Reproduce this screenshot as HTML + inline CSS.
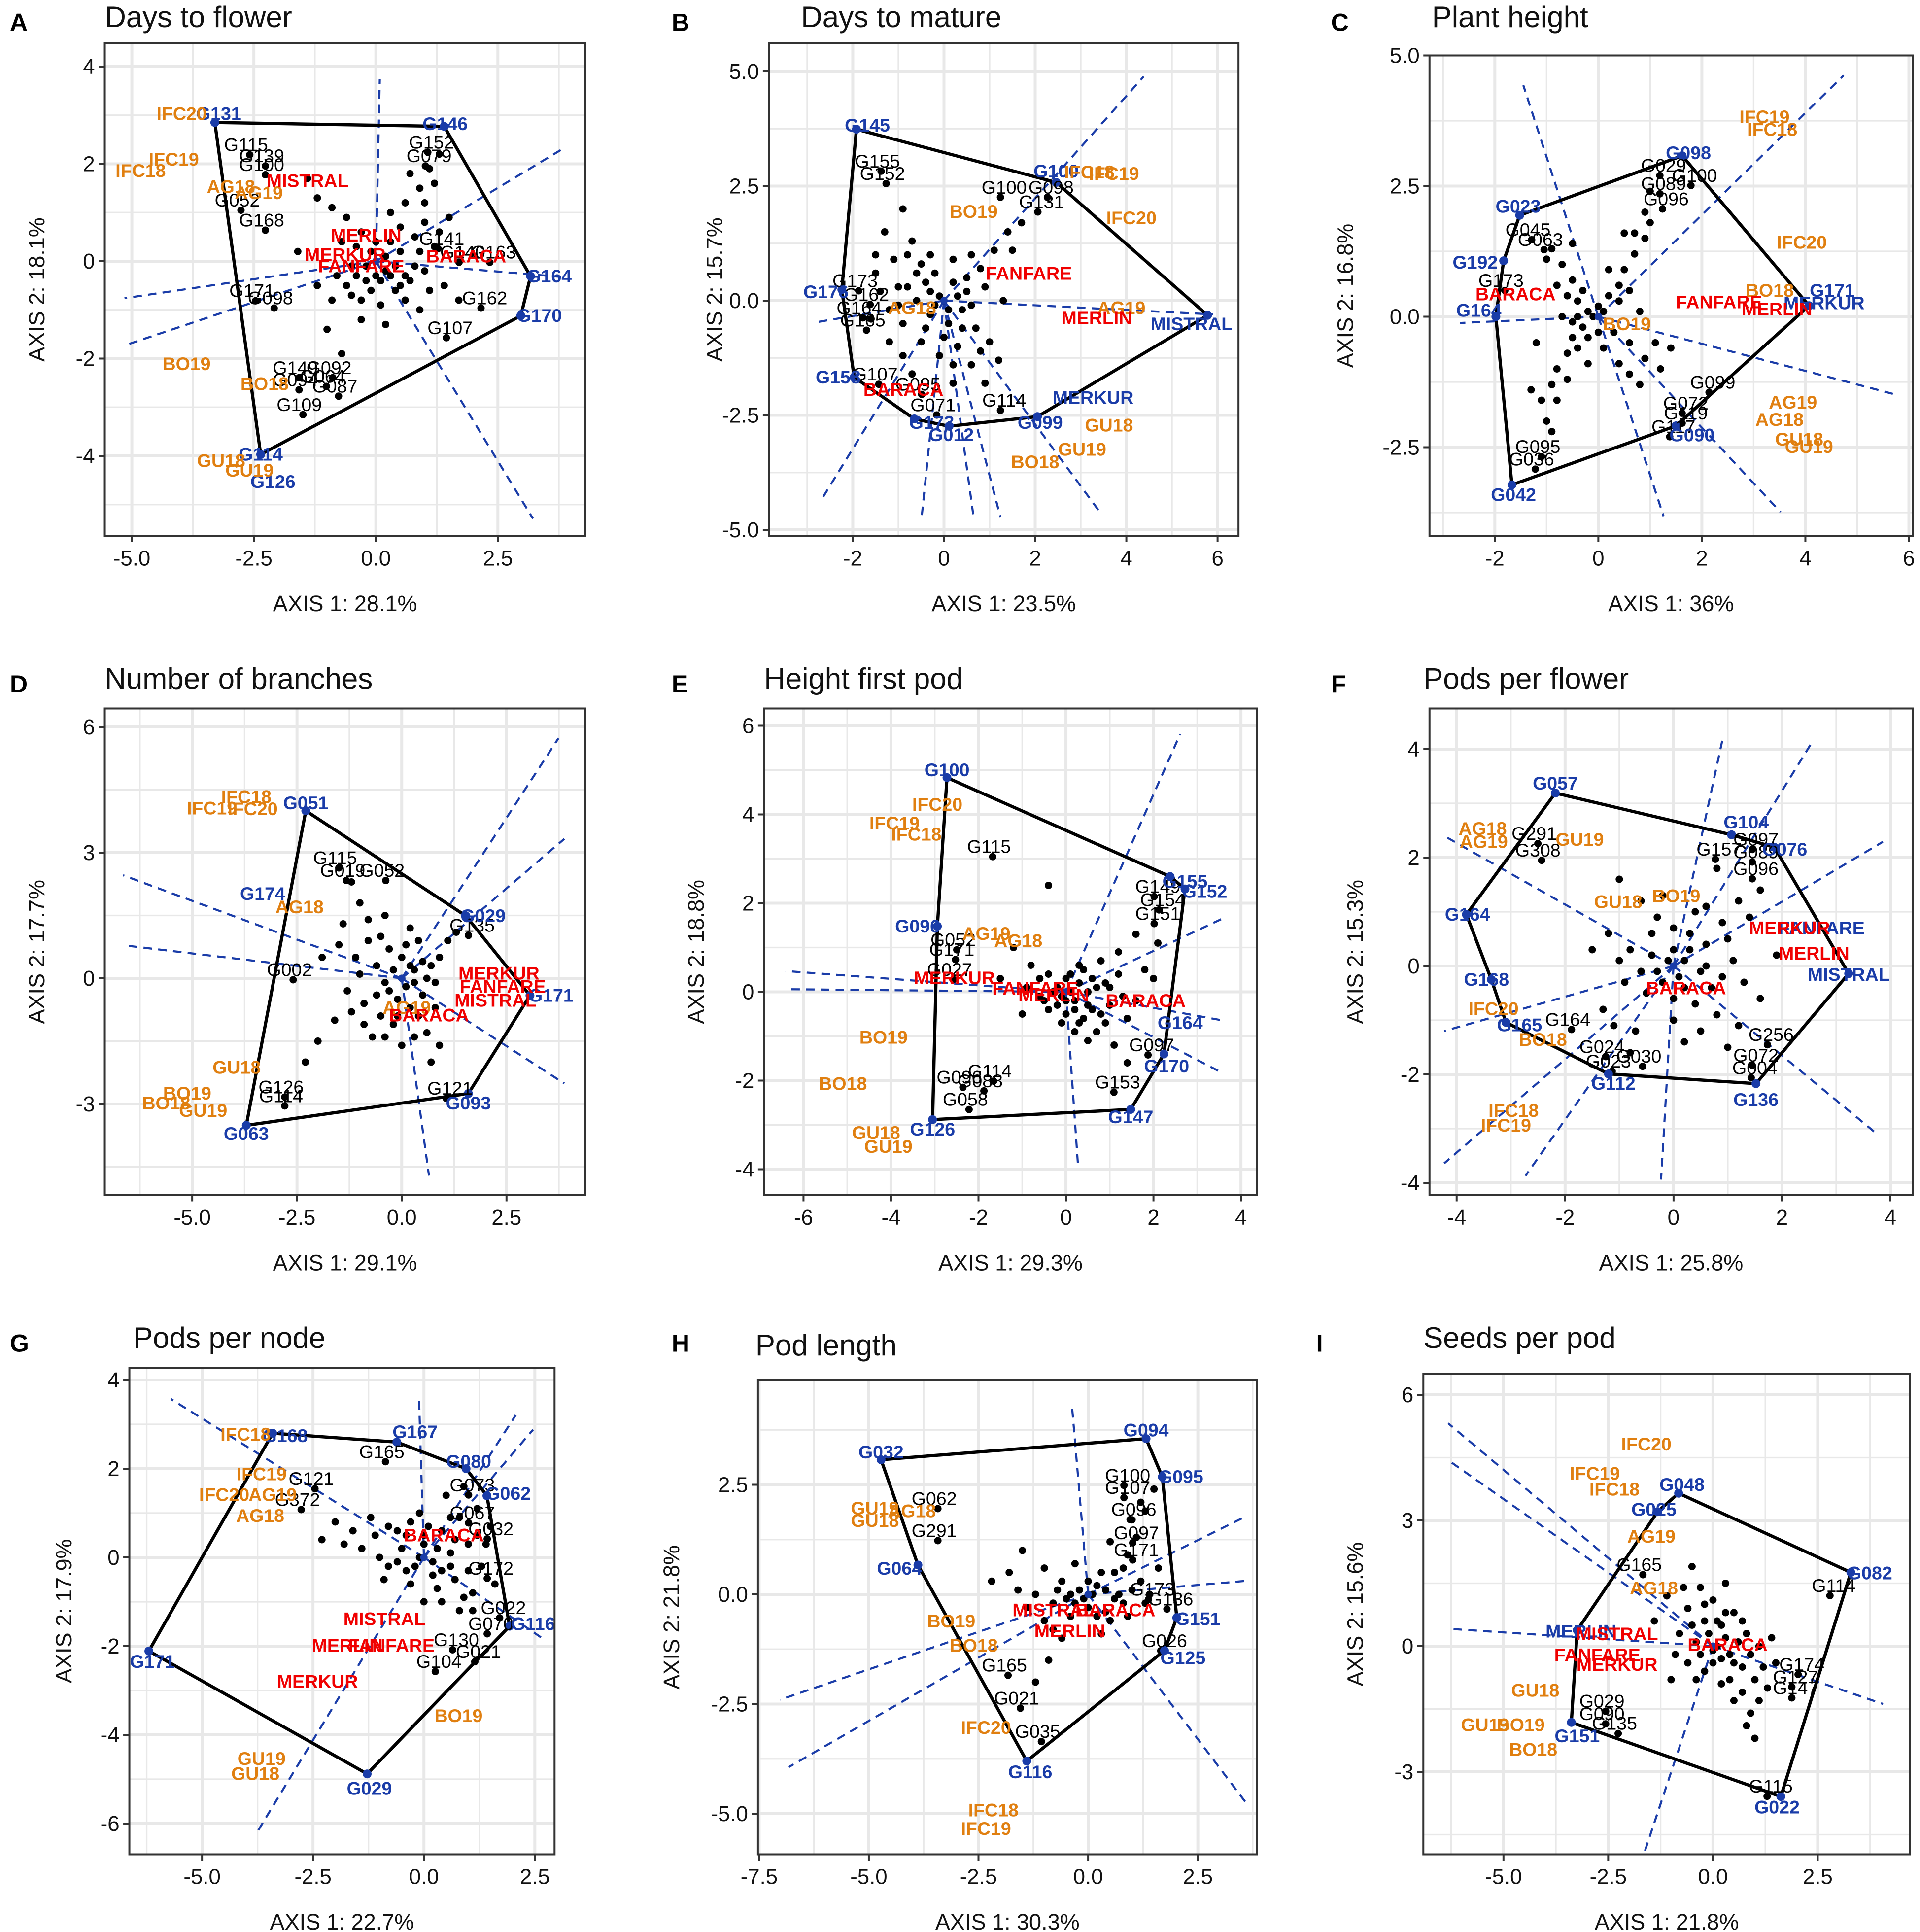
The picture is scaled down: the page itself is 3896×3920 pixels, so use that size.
<!DOCTYPE html>
<html><head><meta charset="utf-8">
<style>
html,body{margin:0;padding:0;background:#fff;}
svg{display:block;font-family:"Liberation Sans",Arial,sans-serif;}
</style></head>
<body>
<svg id="fig" xmlns="http://www.w3.org/2000/svg" width="3896" height="3920" viewBox="0 0 1558 1568" preserveAspectRatio="none"></svg>
<script>
// ===== Data arrays (biplot coordinates) =====
// Panel A
const A_hull=[[-3.30,2.85],[1.40,2.77],[3.17,-0.31],[2.97,-1.12],[-2.36,-3.97]];
const A_rays=[[0.08,3.74],[3.88,2.34],[3.88,-0.33],[3.22,-5.29],[-5.15,-0.76],[-5.15,-1.73]];
const A_env=[["IFC20",-3.98,3.03],["IFC19",-4.14,2.09],["IFC18",-4.82,1.86],["AG18",-2.97,1.53],["AG19",-2.40,1.40],["BO19",-3.88,-2.11],["BO18",-2.28,-2.52],["GU18",-3.17,-4.10],["GU19",-2.59,-4.30]];
const A_cult=[["MISTRAL",-1.40,1.65],["MERLIN",-0.20,0.53],["MERKUR",-0.63,0.13],["BARACA",1.85,0.10],["FANFARE",-0.30,-0.10]];
const A_geno=[["G131",-3.22,3.03],["G146",1.42,2.82],["G164",3.55,-0.31],["G170",3.35,-1.12],["G114",-2.36,-3.97],["G126",-2.11,-4.53]];
const A_other=[["G115",-2.66,2.39],["G139",-2.34,2.16],["G100",-2.34,1.98],["G052",-2.84,1.25],["G168",-2.34,0.84],["G152",1.14,2.44],["G079",1.09,2.16],["G141",1.35,0.46],["G140",1.78,0.18],["G163",2.41,0.18],["G162",2.23,-0.76],["G107",1.52,-1.37],["G171",-2.54,-0.61],["G098",-2.16,-0.76],["G149",-1.65,-2.19],["G092",-0.96,-2.19],["G094",-1.65,-2.44],["G064",-1.09,-2.37],["G087",-0.84,-2.57],["G109",-1.57,-2.95]];
const A_dots=[[-1.4,1.7],[-1.2,1.3],[-0.9,1.1],[-0.6,0.9],[-0.3,0.6],[0,0.4],[0.3,1.0],[0.6,1.2],[0.9,1.5],[1.1,1.9],[1.3,2.2],[1.0,0.8],[0.5,0.2],[0.2,-0.2],[-0.2,-0.4],[-0.5,-0.1],[-0.8,-0.3],[0.4,-0.6],[0.7,-0.4],[1.0,-0.2],[1.4,-0.5],[1.7,-0.8],[0.9,-1.0],[-1.0,-1.4],[-0.7,-1.9],[0.1,-0.9],[-0.4,0.3],[0.8,0.5],[1.5,0.9],[-1.6,0.2],[-0.1,-0.6],[0.3,-0.3],[-0.3,-0.8],[0.6,-0.8],[1.2,0.3],
 [-0.2,-0.1],[0.1,-0.4],[0.4,-0.1],[-0.4,-0.3],[0.2,0.1],[-0.6,-0.5],[0.6,-0.3],[0.0,-0.3],[-0.1,0.2],[0.5,-0.5],[0.3,0.4],[0.9,0.2],[1.1,-0.6],[1.3,0.6],[0.7,1.8],[1.0,1.2],[-0.9,-0.8],[-1.2,-0.5],[-0.3,-1.2],[0.2,-1.3],[1.2,1.6],[0.5,0.7],[-0.7,0.4],[0.0,0.0],[-0.5,-0.7],[0.8,-0.1]];
// Panel B
const B_hull=[[-1.92,3.74],[2.46,2.58],[5.78,-0.32],[2.05,-2.53],[0.11,-2.74],[-0.65,-2.58],[-1.97,-1.67],[-2.24,0.24]];
const B_rays=[[4.38,4.89],[-2.68,-4.33],[-0.49,-4.73],[0.65,-4.73],[1.24,-4.73],[3.41,-4.6],[5.9,-0.3],[-2.86,-0.48]];
const B_env=[["IFC19",3.73,2.77],["IFC18",3.19,2.80],["BO19",0.65,1.94],["IFC20",4.11,1.80],["AG19",3.89,-0.16],["AG18",-0.70,-0.16],["GU18",3.62,-2.72],["GU19",3.03,-3.25],["BO18",2.0,-3.52]];
const B_cult=[["FANFARE",1.86,0.59],["MERLIN",3.35,-0.38],["BARACA",-0.89,-1.94]];
const B_geno=[["G145",-1.68,3.82],["G100",2.46,2.82],["MISTRAL",5.43,-0.51],["MERKUR",3.27,-2.12],["G099",2.11,-2.66],["G012",0.16,-2.93],["G173",-0.27,-2.66],["G158",-2.32,-1.67],["G176",-2.59,0.19]];
const B_other=[["G155",-1.46,3.04],["G152",-1.35,2.77],["G100",1.32,2.47],["G098",2.35,2.47],["G131",2.14,2.15],["G173",-1.95,0.43],["G162",-1.70,0.13],["G164",-1.86,-0.16],["G165",-1.78,-0.43],["G107",-1.51,-1.61],["G095",-0.57,-1.83],["G071",-0.24,-2.28],["G114",1.32,-2.18]];
const B_dots=[[-0.8,1.0],[-0.5,0.8],[-0.2,0.6],[0.2,0.4],[0.5,0.2],[0.8,0.7],[1.1,1.1],[1.4,1.5],[-1.0,0.3],[-0.6,0.0],[-0.3,-0.3],[0.1,-0.5],[0.4,-0.2],[0.7,-0.6],[1.0,-0.9],[-0.9,-0.5],[-0.5,-0.9],[-0.1,-1.2],[0.3,-1.0],[0.6,-1.4],[-1.2,-0.2],[-1.5,0.6],[-1.3,1.5],[-0.9,2.0],[0.9,-1.8],[0.2,0.9],[-0.3,0.2],[0.0,0.0],[0.6,-0.1],[1.3,0.0],[-1.1,0.9],[-0.7,-1.6],[0.2,-1.8],
 [-0.4,0.4],[-0.1,0.1],[0.3,0.1],[-0.6,0.6],[-0.2,-0.1],[0.1,-0.2],[0.5,0.5],[-0.8,0.3],[-1.0,-0.1],[-0.4,-0.6],[0.0,-0.8],[0.4,-0.6],[0.8,-1.1],[1.2,-1.3],[-1.4,0.2],[-1.6,-0.4],[-1.2,-0.9],[-0.7,1.3],[-0.3,1.0],[0.6,1.0],[1.5,1.1],[1.7,1.7],[0.9,0.3],[-0.9,-1.2],[0.2,-1.4],[-1.5,1.0]];
// Panel C
const C_hull=[[1.62,3.08],[4.07,0.21],[1.5,-2.09],[-1.67,-3.22],[-1.98,0],[-1.83,1.07],[-1.52,1.94]];
const C_rays=[[-1.45,4.43],[4.74,4.62],[-2.67,-0.12],[5.74,-1.49],[3.52,-3.74],[1.26,-3.82]];
const C_env=[["IFC19",3.21,3.82],["IFC18",3.36,3.58],["IFC20",3.93,1.42],["BO18",3.31,0.5],["BO19",0.55,-0.14],["AG19",3.76,-1.64],["AG18",3.5,-1.97],["GU18",3.88,-2.35],["GU19",4.07,-2.49]];
const C_cult=[["FANFARE",2.33,0.28],["MERLIN",3.45,0.14],["BARACA",-1.6,0.43]];
const C_geno=[["G098",1.74,3.13],["G023",-1.55,2.11],["G192",-2.38,1.04],["G164",-2.31,0.12],["G171",4.52,0.5],["MERKUR",4.36,0.26],["G090",1.81,-2.27],["G042",-1.64,-3.41]];
const C_other=[["G029",1.26,2.89],["G100",1.86,2.70],["G089",1.26,2.54],["G096",1.31,2.25],["G045",-1.36,1.66],["G063",-1.12,1.47],["G173",-1.88,0.69],["G099",2.21,-1.26],["G072",1.69,-1.66],["G119",1.69,-1.85],["G117",1.45,-2.11],["G095",-1.17,-2.49],["G036",-1.29,-2.73]];
const C_dots=[[-1.0,-2.0],[-1.1,-1.6],[-0.9,-1.3],[-0.8,-1.0],[-0.6,-0.7],[-0.5,-0.4],[-0.3,-0.2],[-0.2,0.1],[0,0.2],[0.2,0.4],[0.4,0.6],[0.5,0.9],[0.7,1.2],[0.9,1.5],[1.0,1.8],[-0.4,0.3],[0.3,-0.3],[0.6,-0.5],[0.9,-0.8],[1.2,-1.0],[-0.7,0.0],[0.1,-0.6],[-0.2,-0.9],[0.8,0.1],[1.4,-0.6],[-1.2,-0.5],[0.2,0.9],[-0.5,0.7],[-0.9,1.3],[-0.7,1.0],[0.9,2.0],[-1.3,-1.4],
 [-0.4,0.0],[-0.1,0.0],[-0.3,0.5],[0.1,0.1],[-0.5,-0.1],[-0.6,0.4],[-0.8,0.6],[-0.2,-0.4],[0.0,-0.3],[-0.4,-0.6],[-0.6,-1.2],[-0.8,-1.6],[-0.9,-2.2],[0.4,-0.9],[0.6,-1.1],[0.8,-1.3],[0.5,1.6],[0.7,1.6],[1.0,2.4],[-1.0,1.1],[-0.5,1.4],[0.4,0.3],[0.6,0.5],[1.1,-0.5]];
// Panel D
const D_hull=[[-2.29,4.0],[1.53,1.49],[3.06,-0.41],[1.59,-2.75],[-3.71,-3.51]];
const D_rays=[[3.74,5.73],[3.88,3.33],[3.88,-2.51],[0.65,-4.71],[-6.65,2.46],[-6.65,0.79]];
const D_env=[["IFC18",-3.71,4.33],["IFC19",-4.53,4.06],["IFC20",-3.56,4.04],["AG18",-2.44,1.70],["AG19",0.12,-0.70],["GU18",-3.94,-2.13],["BO19",-5.12,-2.75],["BO18",-5.62,-2.98],["GU19",-4.74,-3.16]];
const D_cult=[["MERKUR",2.32,0.12],["FANFARE",2.41,-0.2],["MISTRAL",2.24,-0.53],["BARACA",0.65,-0.88]];
const D_geno=[["G051",-2.29,4.18],["G174",-3.32,2.02],["G029",1.94,1.49],["G171",3.56,-0.41],["G093",1.59,-2.98],["G063",-3.71,-3.71]];
const D_other=[["G115",-1.59,2.87],["G019",-1.41,2.57],["G052",-0.47,2.57],["G135",1.68,1.26],["G002",-2.68,0.20],["G121",1.15,-2.63],["G126",-2.88,-2.60],["G114",-2.88,-2.81]];
const D_dots=[[-1.2,2.3],[-1.0,1.8],[-0.8,1.4],[-0.5,1.0],[-0.3,0.7],[0,0.5],[0.3,0.2],[-0.6,0.3],[-1.0,0.1],[-1.3,-0.3],[-0.9,-0.6],[-0.5,-0.9],[-0.2,-1.1],[0.2,-0.7],[0.5,-0.4],[0.8,-0.1],[0.6,-1.3],[0.9,-1.6],[-1.6,-1.0],[-2.0,-1.5],[-2.3,-2.0],[-1.5,0.8],[0.1,-0.2],[-0.3,-0.3],[0.4,0.9],[-0.7,-1.4],[0.7,-2.0],[-1.9,0.5],[0.2,0.3],[-0.1,-0.5],[0.5,0.4],
 [0.0,0.0],[-0.2,0.2],[0.3,-0.1],[-0.4,-0.1],[0.1,0.8],[-0.8,0.9],[-0.6,-0.4],[0.4,-0.9],[-0.1,-0.9],[0.6,0.0],[0.9,0.5],[1.1,0.9],[1.3,1.1],[-0.9,-1.1],[-1.2,-0.8],[0.3,-1.4],[-0.4,-1.4],[0.8,-0.7],[-1.1,0.5],[-0.4,1.5],[0.2,1.2],[-1.4,1.3],[0.0,-1.6],[0.7,0.3]];
// Panel E
const E_hull=[[-2.72,4.83],[2.38,2.6],[2.72,2.32],[2.24,-1.40],[1.48,-2.65],[-3.05,-2.88],[-2.94,1.48]];
const E_rays=[[2.61,5.81],[3.64,1.68],[3.56,-0.64],[3.56,-1.82],[0.28,-3.99],[-6.41,0.47],[-6.41,0.06]];
const E_env=[["IFC20",-2.94,4.22],["IFC19",-3.92,3.80],["IFC18",-3.42,3.55],["AG19",-1.82,1.31],["AG18",-1.09,1.15],["BO19",-4.17,-1.03],["BO18",-5.10,-2.07],["GU18",-4.34,-3.18],["GU19",-4.06,-3.49]];
const E_cult=[["MERKUR",-2.55,0.31],["FANFARE",-0.70,0.08],["MERLIN",-0.28,-0.08],["BARACA",1.82,-0.20]];
const E_geno=[["G100",-2.72,5.0],["G096",-3.39,1.48],["G155",2.72,2.49],["G152",3.17,2.26],["G164",2.61,-0.70],["G170",2.30,-1.68],["G147",1.48,-2.82],["G126",-3.05,-3.10]];
const E_other=[["G115",-1.76,3.27],["G052",-2.58,1.17],["G171",-2.61,0.95],["G027",-2.66,0.50],["G149",2.10,2.37],["G154",2.21,2.07],["G151",2.10,1.76],["G097",1.96,-1.20],["G153",1.18,-2.04],["G114",-1.74,-1.79],["G096",-2.44,-1.93],["G088",-1.96,-2.01],["G058",-2.30,-2.43]];
const E_dots=[[-0.4,2.4],[-1.2,1.0],[-0.8,0.6],[-0.4,0.4],[0,0.3],[0.4,0.5],[0.8,0.7],[1.2,0.9],[1.6,1.3],[-0.6,-0.1],[-0.2,-0.3],[0.2,-0.2],[0.6,-0.4],[1.0,-0.3],[1.4,-0.6],[0.3,-0.7],[0.7,-0.9],[1.1,-1.2],[1.4,-1.6],[-1.0,-0.5],[0,-0.5],[0.5,0.0],[1.8,0.5],[2.1,1.1],[-1.5,0.3],[0.9,0.2],[0.1,0.0],[-0.3,0.0],[0.3,0.2],
 [-0.1,-0.1],[0.2,-0.4],[0.5,-0.3],[-0.4,-0.4],[0.0,-0.2],[0.4,-0.6],[0.8,-0.5],[-0.2,0.1],[0.6,0.3],[1.0,0.1],[1.3,-0.1],[0.2,-0.9],[0.5,-1.1],[-0.6,0.3],[-0.9,0.1],[0.9,-0.7],[1.2,0.4],[-0.1,-0.7],[0.3,0.6],[0.7,0.1],[0.1,0.4],[-0.5,-0.2],[1.6,-0.2],[2.0,0.3]];
// Panel F
const F_hull=[[-2.18,3.19],[1.07,2.42],[1.86,2.19],[3.23,-0.14],[1.52,-2.17],[-1.20,-1.99],[-3.09,-1.04],[-3.36,-0.25],[-3.82,0.95]];
const F_rays=[[0.91,4.21],[2.55,4.12],[3.86,2.29],[3.73,-3.08],[-0.23,-3.94],[-2.73,-3.87],[-4.23,-3.64],[-4.23,-1.20],[-4.23,2.40]];
const F_env=[["AG18",-3.52,2.53],["AG19",-3.50,2.29],["GU19",-1.73,2.33],["GU18",-1.02,1.18],["BO19",0.05,1.29],["IFC20",-3.32,-0.79],["BO18",-2.41,-1.36],["IFC18",-2.95,-2.67],["IFC19",-3.09,-2.94]];
const F_cult=[["MERKUR",2.14,0.70],["MERLIN",2.59,0.23],["BARACA",0.23,-0.41]];
const F_geno=[["G057",-2.18,3.37],["G104",1.34,2.65],["G076",2.05,2.15],["FANFARE",2.73,0.70],["MISTRAL",3.23,-0.16],["G136",1.52,-2.47],["G112",-1.11,-2.17],["G165",-2.84,-1.09],["G168",-3.45,-0.25],["G164",-3.80,0.95]];
const F_other=[["G291",-2.57,2.44],["G308",-2.50,2.13],["G157",0.84,2.15],["G097",1.52,2.33],["G089",1.52,2.10],["G096",1.52,1.79],["G164",-1.95,-0.99],["G256",1.80,-1.27],["G072",1.52,-1.65],["G004",1.50,-1.88],["G024",-1.32,-1.49],["G030",-0.64,-1.67],["G023",-1.20,-1.76]];
const F_dots=[[-1.0,1.6],[-0.6,1.2],[-0.3,0.9],[0,0.7],[0.3,0.6],[0.6,0.4],[1.0,0.5],[1.4,0.9],[1.6,1.4],[0.8,1.8],[-1.2,0.6],[-0.8,0.3],[-0.4,0.2],[0.2,0.1],[0.5,-0.1],[0.9,-0.2],[1.3,-0.3],[-0.9,-0.3],[-0.5,-0.5],[0.0,-0.6],[0.4,-0.7],[0.8,-0.9],[1.2,-1.1],[-1.3,-0.8],[-0.7,-1.2],[0.2,-1.4],[1.0,-1.5],[-0.2,1.3],[0.6,1.1],[1.9,0.2],
 [-0.1,0.1],[0.1,-0.2],[0.3,0.3],[-0.3,-0.1],[0.0,0.3],[0.6,0.0],[-0.6,-0.1],[0.2,-0.4],[0.7,-0.4],[-0.2,-0.3],[1.1,0.1],[-1.0,0.1],[-0.4,0.6],[0.4,1.0],[1.2,1.2],[-1.1,-1.1],[0.5,-1.2],[1.6,-0.6],[-0.8,-1.6],[0.9,0.8],[-1.5,0.3],[0.0,-1.0]];
// Panel G
const G_hull=[[-3.41,2.80],[-0.61,2.60],[0.95,2.0],[1.42,1.39],[1.93,-1.55],[-1.28,-4.88],[-6.20,-2.11]];
const G_rays=[[-5.70,3.57],[-0.11,3.57],[2.07,3.21],[2.46,2.88],[2.68,-1.83],[-3.80,-6.26]];
const G_env=[["IFC18",-4.02,2.77],["IFC19",-3.66,1.88],["IFC20",-4.50,1.41],["AG19",-3.41,1.41],["AG18",-3.69,0.94],["BO19",0.78,-3.57],["GU19",-3.66,-4.54],["GU18",-3.80,-4.88]];
const G_cult=[["BARACA",0.45,0.50],["MISTRAL",-0.89,-1.39],["MERLIN",-1.73,-1.99],["FANFARE",-0.73,-1.99],["MERKUR",-2.40,-2.80]];
const G_geno=[["G168",-3.13,2.74],["G167",-0.20,2.83],["G080",1.01,2.16],["G062",1.90,1.44],["G116",2.46,-1.50],["G029",-1.23,-5.21],["G171",-6.12,-2.35]];
const G_other=[["G165",-0.95,2.38],["G121",-2.54,1.77],["G372",-2.85,1.30],["G073",1.09,1.63],["G067",1.09,1.0],["G032",1.51,0.64],["G172",1.51,-0.25],["G022",1.79,-1.14],["G070",1.51,-1.50],["G130",0.73,-1.86],["G021",1.23,-2.13],["G104",0.34,-2.35]];
const G_dots=[[-2.0,0.8],[-1.6,0.6],[-1.2,0.9],[-0.8,0.7],[-0.4,0.5],[0,0.3],[0.4,0.6],[0.8,0.9],[1.2,1.1],[1.5,0.7],[-1.4,0.2],[-1.0,0.0],[-0.6,-0.1],[-0.2,-0.2],[0.2,-0.1],[0.6,0.1],[1.0,0.3],[1.3,-0.2],[-0.3,-0.6],[0.3,-0.7],[0.7,-0.5],[1.1,-0.8],[-0.9,-0.5],[0.5,1.4],[0.9,1.6],[-0.1,1.0],[1.6,-0.6],[-2.3,0.4],[0.0,-1.0],[0.8,-1.2],
 [-0.5,0.2],[-0.1,0.0],[0.3,0.2],[0.6,-0.2],[-0.3,0.8],[0.1,0.7],[0.4,-0.3],[-0.6,0.6],[1.0,-0.3],[1.2,0.5],[0.7,0.4],[-1.1,0.5],[-0.8,-0.2],[0.2,-0.4],[0.9,-0.9],[1.4,0.3],[-1.8,0.3],[0.6,0.9],[-0.4,-0.3],[0.0,0.5],[1.1,-1.2],[0.4,-1.0]];
// Panel H
const H_hull=[[-4.72,3.07],[1.32,3.55],[1.69,2.68],[2.02,-0.53],[1.74,-1.28],[-1.40,-3.80],[-3.88,0.67]];
const H_rays=[[-0.37,4.30],[3.62,1.79],[3.62,0.31],[3.62,-4.78],[-7.02,-2.40],[-6.83,-3.94]];
const H_env=[["GU19",-4.86,1.96],["GU18",-4.86,1.68],["AG18",-4.02,1.90],["BO19",-3.12,-0.61],["BO18",-2.61,-1.17],["IFC20",-2.33,-3.04],["IFC18",-2.16,-4.92],["IFC19",-2.33,-5.34]];
const H_cult=[["MISTRAL",-0.79,-0.36],["BARACA",0.62,-0.36],["MERLIN",-0.42,-0.84]];
const H_geno=[["G032",-4.72,3.24],["G094",1.32,3.74],["G095",2.11,2.68],["G151",2.5,-0.56],["G125",2.16,-1.45],["G116",-1.32,-4.05],["G064",-4.30,0.59]];
const H_other=[["G062",-3.51,2.18],["G291",-3.51,1.45],["G100",0.90,2.71],["G107",0.90,2.43],["G096",1.04,1.93],["G097",1.10,1.40],["G171",1.10,1.01],["G173",1.46,0.11],["G136",1.88,-0.11],["G026",1.74,-1.06],["G165",-1.91,-1.62],["G021",-1.63,-2.37],["G035",-1.15,-3.13]];
const H_dots=[[-1.5,1.0],[-1.0,0.6],[-0.6,0.3],[-0.2,0.1],[0.2,0.2],[0.6,0.5],[0.9,0.9],[1.1,1.3],[1.3,1.9],[1.5,2.4],[-1.8,0.5],[-1.2,0.0],[-0.8,-0.2],[-0.4,-0.5],[0,-0.3],[0.4,-0.4],[0.8,-0.2],[1.2,0.3],[-1.0,-0.6],[-0.6,-1.0],[-0.9,-1.5],[-1.2,-2.0],[0.3,-0.9],[0.7,0.0],[1.6,0.6],[-2.2,0.3],[-0.3,0.7],[0.5,1.2],
 [-0.1,-0.1],[0.1,0.0],[0.4,0.1],[-0.4,0.0],[-0.7,0.1],[0.2,-0.5],[0.6,-0.1],[1.0,0.1],[1.3,-0.2],[0.8,0.6],[1.0,1.7],[1.2,2.1],[-1.4,-0.3],[-0.5,-0.1],[0.0,0.3],[0.5,-0.6],[-1.6,0.1],[-0.8,-0.8],[0.9,-0.5],[1.4,0.0],[-0.3,-0.2],[0.3,0.5]];
// Panel I
const I_hull=[[-0.82,3.65],[3.29,1.76],[1.62,-3.59],[-3.38,-1.82],[-3.24,0.38],[-1.32,3.21]];
const I_rays=[[-6.32,5.32],[-6.32,4.44],[-6.24,0.41],[4.06,-1.38],[-1.68,-5.06]];
const I_env=[["IFC20",-1.59,4.82],["IFC19",-2.82,4.12],["IFC18",-2.35,3.74],["AG19",-1.47,2.62],["AG18",-1.41,1.38],["GU18",-4.24,-1.06],["GU19",-5.44,-1.88],["BO19",-4.59,-1.88],["BO18",-4.29,-2.47]];
const I_cult=[["MISTRAL",-2.29,0.29],["FANFARE",-2.76,-0.21],["MERKUR",-2.29,-0.44],["BARACA",0.35,0.03]];
const I_geno=[["G048",-0.74,3.85],["G025",-1.41,3.26],["G082",3.74,1.74],["G022",1.53,-3.85],["G151",-3.24,-2.15],["MERLIN",-3.15,0.35]];
const I_other=[["G165",-1.76,1.94],["G114",2.88,1.44],["G174",2.12,-0.44],["G127",1.97,-0.74],["G147",1.97,-1.0],["G029",-2.65,-1.32],["G090",-2.65,-1.62],["G135",-2.35,-1.85],["G115",1.38,-3.35]];
const I_dots=[[-0.5,1.9],[-0.3,1.4],[0,1.1],[-0.6,0.9],[-0.2,0.6],[0.2,0.5],[0.5,0.8],[0.8,0.3],[1.1,0.0],[-0.8,0.3],[-0.4,0.1],[0,-0.1],[0.4,-0.2],[0.7,-0.5],[1.0,-0.8],[1.3,-1.0],[-0.6,-0.4],[-0.2,-0.6],[0.2,-0.9],[0.5,-1.3],[0.9,-1.6],[1.0,-2.2],[-1.0,-0.8],[-1.4,0.6],[1.5,-0.4],[0.3,1.5],[-1.1,1.2],[0.6,0.1],
 [-0.1,0.3],[0.1,0.0],[0.3,0.2],[-0.3,-0.2],[0.5,-0.4],[0.2,-0.3],[-0.5,0.5],[0.7,0.6],[0.9,-0.2],[1.2,-0.5],[0.4,-0.8],[0.0,-0.4],[-0.4,-0.8],[0.7,-1.1],[1.1,-1.3],[0.3,0.8],[-0.2,1.0],[-0.7,1.4],[1.4,0.2],[0.8,-1.9],[-0.9,-0.2],[0.1,0.6]];

// Tick values
const A_xticks=[-5,-2.5,0,2.5], A_yticks=[-4,-2,0,2,4];
const B_xticks=[-2,0,2,4,6], B_yticks=[-5,-2.5,0,2.5,5];
const C_xticks=[-2,0,2,4,6], C_yticks=[-2.5,0,2.5,5];
const D_xticks=[-5,-2.5,0,2.5], D_yticks=[-3,0,3,6];
const E_xticks=[-6,-4,-2,0,2,4], E_yticks=[-4,-2,0,2,4,6];
const F_xticks=[-4,-2,0,2,4], F_yticks=[-4,-2,0,2,4];
const G_xticks=[-5,-2.5,0,2.5], G_yticks=[-6,-4,-2,0,2,4];
const H_xticks=[-7.5,-5,-2.5,0,2.5], H_yticks=[-5,-2.5,0,2.5];
const I_xticks=[-5,-2.5,0,2.5], I_yticks=[-3,0,3,6];

// ===== Layout (not data) =====
const panels=[
 {id:"a",letter:"A",title:"Days to flower",xl:"AXIS 1: 28.1%",yl:"AXIS 2: 18.1%",box:[85,35,475,435],xm:[0,305,2.5,404],ym:[0,212,2,133],xt:A_xticks,yt:A_yticks,xd:1,yd:0,lp:[8,18],tp:[85,20],ylx:30,xly:490,hull:A_hull,rays:A_rays,env:A_env,cult:A_cult,geno:A_geno,other:A_other,dots:A_dots},
 {id:"b",letter:"B",title:"Days to mature",xl:"AXIS 1: 23.5%",yl:"AXIS 2: 15.7%",box:[624,35,1005,435],xm:[0,766,2,840],ym:[0,244,2.5,151],xt:B_xticks,yt:B_yticks,xd:0,yd:1,lp:[545,18],tp:[650,20],ylx:580,xly:490,hull:B_hull,rays:B_rays,env:B_env,cult:B_cult,geno:B_geno,other:B_other,dots:B_dots},
 {id:"c",letter:"C",title:"Plant height",xl:"AXIS 1: 36%",yl:"AXIS 2: 16.8%",box:[1160,45,1552,435],xm:[0,1297,2,1381],ym:[0,257,2.5,151],xt:C_xticks,yt:C_yticks,xd:0,yd:1,lp:[1080,18],tp:[1162,20],ylx:1092,xly:490,hull:C_hull,rays:C_rays,env:C_env,cult:C_cult,geno:C_geno,other:C_other,dots:C_dots},
 {id:"d",letter:"D",title:"Number of branches",xl:"AXIS 1: 29.1%",yl:"AXIS 2: 17.7%",box:[85,575,475,970],xm:[0,326,2.5,411],ym:[0,794,3,692],xt:D_xticks,yt:D_yticks,xd:1,yd:0,lp:[8,555],tp:[85,557],ylx:30,xly:1025,hull:D_hull,rays:D_rays,env:D_env,cult:D_cult,geno:D_geno,other:D_other,dots:D_dots},
 {id:"e",letter:"E",title:"Height first pod",xl:"AXIS 1: 29.3%",yl:"AXIS 2: 18.8%",box:[620,575,1020,970],xm:[0,865,2,936],ym:[0,805,2,733],xt:E_xticks,yt:E_yticks,xd:0,yd:0,lp:[545,555],tp:[620,557],ylx:565,xly:1025,hull:E_hull,rays:E_rays,env:E_env,cult:E_cult,geno:E_geno,other:E_other,dots:E_dots},
 {id:"f",letter:"F",title:"Pods per flower",xl:"AXIS 1: 25.8%",yl:"AXIS 2: 15.3%",box:[1160,575,1552,970],xm:[0,1358,2,1446],ym:[0,784,2,696],xt:F_xticks,yt:F_yticks,xd:0,yd:0,lp:[1080,555],tp:[1155,557],ylx:1100,xly:1025,hull:F_hull,rays:F_rays,env:F_env,cult:F_cult,geno:F_geno,other:F_other,dots:F_dots},
 {id:"g",letter:"G",title:"Pods per node",xl:"AXIS 1: 22.7%",yl:"AXIS 2: 17.9%",box:[105,1110,450,1505],xm:[0,344,2.5,434],ym:[0,1264,2,1192],xt:G_xticks,yt:G_yticks,xd:1,yd:0,lp:[8,1090],tp:[108,1092],ylx:52,xly:1560,hull:G_hull,rays:G_rays,env:G_env,cult:G_cult,geno:G_geno,other:G_other,dots:G_dots},
 {id:"h",letter:"H",title:"Pod length",xl:"AXIS 1: 30.3%",yl:"AXIS 2: 21.8%",box:[615,1120,1020,1505],xm:[0,883,2.5,972],ym:[0,1294,2.5,1205],xt:H_xticks,yt:H_yticks,xd:1,yd:1,lp:[545,1090],tp:[613,1098],ylx:545,xly:1560,hull:H_hull,rays:H_rays,env:H_env,cult:H_cult,geno:H_geno,other:H_other,dots:H_dots},
 {id:"i",letter:"I",title:"Seeds per pod",xl:"AXIS 1: 21.8%",yl:"AXIS 2: 15.6%",box:[1155,1115,1550,1505],xm:[0,1390,2.5,1475],ym:[0,1336,3,1234],xt:I_xticks,yt:I_yticks,xd:1,yd:0,lp:[1068,1090],tp:[1155,1092],ylx:1100,xly:1560,hull:I_hull,rays:I_rays,env:I_env,cult:I_cult,geno:I_geno,other:I_other,dots:I_dots}
];

const NS="http://www.w3.org/2000/svg";
const svg=document.getElementById("fig");
const COL={env:"#E07F10",cult:"#F00000",geno:"#1A3CA8",ray:"#1A3CA8"};
function mk(tag,attrs,parent){const e=document.createElementNS(NS,tag);for(const k in attrs)e.setAttribute(k,attrs[k]);parent.appendChild(e);return e;}

panels.forEach(p=>{
  const g=mk("g",{},svg);
  
  
  const [x0,y0,x1,y1]=p.box;
  const sx=v=>p.xm[1]+(v-p.xm[0])*(p.xm[3]-p.xm[1])/(p.xm[2]-p.xm[0]);
  const sy=v=>p.ym[1]+(v-p.ym[0])*(p.ym[3]-p.ym[1])/(p.ym[2]-p.ym[0]);
  const stx=p.xt[1]-p.xt[0], sty=p.yt[1]-p.yt[0];
  mk("rect",{x:x0,y:y0,width:x1-x0,height:y1-y0,fill:"#fff"},g);
  const grid=mk("g",{},g);
  
  
  for(let v=p.xt[0]-stx;v<=p.xt[p.xt.length-1]+stx;v+=stx/2){const X=sx(v);if(X>x0&&X<x1){const major=Math.abs(Math.round(v/stx)*stx-v)<1e-6;mk("line",{x1:X,x2:X,y1:y0,y2:y1,stroke:"#e8e8e8","stroke-width":major?2.4:1.3},grid);}}
  for(let v=p.yt[0]-sty;v<=p.yt[p.yt.length-1]+sty;v+=sty/2){const Y=sy(v);if(Y>y0&&Y<y1){const major=Math.abs(Math.round(v/sty)*sty-v)<1e-6;mk("line",{x1:x0,x2:x1,y1:Y,y2:Y,stroke:"#e8e8e8","stroke-width":major?2.4:1.3},grid);}}
  const cp=mk("clipPath",{id:"clip-"+p.id},g);
  mk("rect",{x:x0,y:y0,width:x1-x0,height:y1-y0},cp);
  const plot=mk("g",{"clip-path":"url(#clip-"+p.id+")"},g);
  p.rays.forEach(r=>{
    const l=mk("line",{x1:sx(0),y1:sy(0),x2:sx(r[0]),y2:sy(r[1]),stroke:COL.ray,"stroke-width":1.7,"stroke-dasharray":"7,5"},plot);
    
    
  });
  p.dots.forEach(d=>{
    const c=mk("circle",{cx:sx(d[0]),cy:sy(d[1]),r:3,fill:"#000"},plot);
    
    
  });
  p.other.forEach(d=>{
    const c=mk("circle",{cx:sx(d[1])+(sx(d[1])>sx(0)?-3:3),cy:sy(d[2])+8,r:3,fill:"#000"},plot);
    
    
  });
  const hp=mk("polygon",{points:p.hull.map(h=>sx(h[0])+","+sy(h[1])).join(" "),fill:"none",stroke:"#000","stroke-width":2.6},plot);
  
  
  p.hull.forEach(h=>{
    const c=mk("circle",{cx:sx(h[0]),cy:sy(h[1]),r:3.6,fill:COL.geno},plot);
    
    
  });
  const o=mk("circle",{cx:sx(0),cy:sy(0),r:3,fill:COL.geno},plot);
  
  
  const addLabels=(arr,color,bold,name)=>arr.forEach(l=>{
    const t=mk("text",{x:sx(l[1]),y:sy(l[2])+5,"text-anchor":"middle","font-size":15,fill:color,"font-weight":bold?"bold":"normal"},plot);
    t.textContent=l[0];
    
    
  });
  addLabels(p.other,"#000",false,'genotype-label');
  addLabels(p.geno,COL.geno,true,'vertex-genotype-label');
  addLabels(p.env,COL.env,true,'environment-label');
  addLabels(p.cult,COL.cult,true,'cultivar-label');
  const b=mk("rect",{x:x0,y:y0,width:x1-x0,height:y1-y0,fill:"none",stroke:"#333","stroke-width":1.6},g);
  
  
  p.xt.forEach(v=>{
    const X=sx(v);
    mk("line",{x1:X,x2:X,y1:y1,y2:y1+5,stroke:"#333","stroke-width":1.6},g);
    const t=mk("text",{x:X,y:y1+24,"text-anchor":"middle","font-size":17.5,fill:"#111"},g);
    t.textContent=v.toFixed(p.xd);
    
    
  });
  p.yt.forEach(v=>{
    const Y=sy(v);
    mk("line",{x1:x0-5,x2:x0,y1:Y,y2:Y,stroke:"#333","stroke-width":1.6},g);
    const t=mk("text",{x:x0-8,y:Y+6,"text-anchor":"end","font-size":17.5,fill:"#111"},g);
    t.textContent=v.toFixed(p.yd);
    
    
  });
  const xt=mk("text",{x:(x0+x1)/2,y:p.xly+6,"text-anchor":"middle","font-size":18,fill:"#111"},g);
  xt.textContent=p.xl;
  
  
  const yt=mk("text",{x:0,y:0,"text-anchor":"middle","font-size":18,fill:"#111",transform:"translate("+(p.ylx+6)+","+((y0+y1)/2)+") rotate(-90)"},g);
  yt.textContent=p.yl;
  
  
  const lt=mk("text",{x:p.lp[0],y:p.lp[1]+7,"font-size":20,"font-weight":"bold",fill:"#000"},g);
  lt.textContent=p.letter;
  
  
  const tt=mk("text",{x:p.tp[0],y:p.tp[1]+2,"font-size":24,fill:"#111"},g);
  tt.textContent=p.title;
  
  
});
</script>
</body></html>
